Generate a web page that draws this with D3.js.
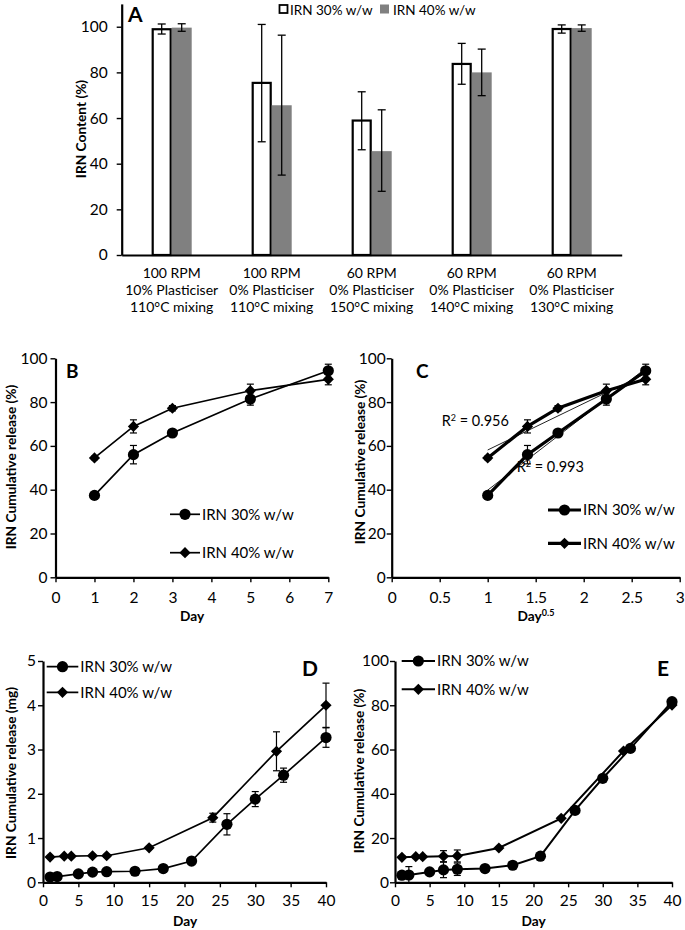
<!DOCTYPE html>
<html><head><meta charset="utf-8">
<script src="https://cdn.jsdelivr.net/npm/d3@7"></script>
<style>
body{margin:0;background:#fff}
svg{display:block}
</style></head><body>
<svg id="c" width="685" height="930"></svg>
<script>
// ---------- Panel A data ----------
const catsA = ["100 RPM\n10% Plasticiser\n110°C mixing", "100 RPM\n0% Plasticiser\n110°C mixing", "60 RPM\n0% Plasticiser\n150°C mixing", "60 RPM\n0% Plasticiser\n140°C mixing", "60 RPM\n0% Plasticiser\n130°C mixing"];
const seriesA = ["IRN 30% w/w", "IRN 40% w/w"];
const a30 = [98.9, 75.4, 58.9, 83.7, 99.0];
const a30lo = [96.8, 49.6, 46.1, 74.8, 97.2];
const a30hi = [101.2, 101.0, 71.5, 92.7, 100.8];
const a40 = [99.6, 65.6, 45.5, 80.0, 99.4];
const a40lo = [98.0, 35.0, 27.9, 69.8, 98.0];
const a40hi = [101.3, 96.3, 63.6, 90.2, 100.8];
const ticksA = [0, 20, 40, 60, 80, 100];

// ---------- Panels B / C data ----------
const daysB = [1, 2, 3, 5, 7];
const b30 = [37.4, 56.0, 65.9, 81.4, 94.3];
const b30err = [0.8, 4.2, 1.0, 2.8, 3.0];
const b40 = [54.5, 68.9, 77.2, 85.2, 90.4];
const b40err = [0.8, 3.0, 1.2, 3.0, 2.5];
const ticksBx = [0, 1, 2, 3, 4, 5, 6, 7];
const ticksCx = [0, 0.5, 1, 1.5, 2, 2.5, 3];
const ticksPct = [0, 20, 40, 60, 80, 100];
const r2Labels = ["0.956", "0.993"];

// ---------- Panels D / E data ----------
const days30 = [1, 2, 5, 7, 9, 13, 17, 21, 26, 30, 34, 40];
const days40 = [1, 3, 4, 7, 9, 15, 24, 33, 40];
const d30 = [0.12, 0.13, 0.19, 0.23, 0.24, 0.25, 0.31, 0.48, 1.31, 1.88, 2.42, 3.27];
const d30err = [0.02, 0.02, 0.02, 0.02, 0.02, 0.02, 0.03, 0.04, 0.24, 0.17, 0.16, 0.22];
const d40 = [0.57, 0.59, 0.59, 0.60, 0.60, 0.78, 1.46, 2.96, 4.0];
const d40err = [0.02, 0.02, 0.02, 0.03, 0.03, 0.03, 0.10, 0.44, 0.50];
const e30 = [3.2, 3.3, 4.7, 5.6, 5.9, 6.2, 7.7, 11.8, 32.5, 47.0, 60.5, 81.6];
const e30err = [0.5, 3.8, 0.5, 3.5, 2.8, 0.5, 0.5, 0.5, 1.0, 1.0, 1.0, 1.0];
const e40 = [11.3, 11.6, 11.6, 11.8, 11.9, 15.5, 28.9, 59.3, 80.1];
const e40err = [0.5, 0.5, 0.5, 2.5, 2.7, 0.5, 0.5, 0.5, 0.5];
const ticksDx = [0, 5, 10, 15, 20, 25, 30, 35, 40];
const ticksDy = [0, 1, 2, 3, 4, 5];

const FONT = "Lato, 'Open Sans', sans-serif";
const TICK_FS = 15.5, TITLE_FS = 13.7;
const svg = d3.select("#c");

function styleAxis(g, w, fs) {
  g.select(".domain").attr("stroke", "#000").attr("stroke-width", w);
  g.selectAll(".tick line").attr("stroke", "#000").attr("stroke-width", 1.4);
  g.selectAll(".tick text").attr("font-family", FONT).attr("font-size", fs).attr("fill", "#000");
}
function yTitle(x, y, txt, fs) {
  svg.append("text").attr("transform", `translate(${x},${y}) rotate(-90)`)
    .attr("text-anchor", "middle").attr("dy", "0.35em")
    .attr("font-family", FONT).attr("font-weight", "bold").attr("font-size", fs).text(txt);
}
function xTitle(x, y, txt) {
  return svg.append("text").attr("x", x).attr("y", y).attr("text-anchor", "middle").attr("font-family", FONT)
    .attr("font-weight", "bold").attr("font-size", TITLE_FS).text(txt);
}
function label(x, y, txt, fs) {
  svg.append("text").attr("x", x).attr("y", y).attr("font-family", FONT)
    .attr("font-weight", "bold").attr("font-size", fs).text(txt);
}
function marker(g, type, cx, cy) {
  if (type === "circle") {
    g.append("circle").attr("cx", cx).attr("cy", cy).attr("r", 5.6).attr("fill", "#000");
  } else {
    const h = 5.6;
    g.append("path").attr("d", `M${cx},${cy - h}L${cx + h},${cy}L${cx},${cy + h}L${cx - h},${cy}Z`).attr("fill", "#000");
  }
}

// ================= Panel A =================
(function () {
  const x = d3.scaleBand().domain(catsA).range([121.7, 621.7]);
  const x1 = d3.scaleBand().domain(seriesA).range([0, x.bandwidth()]).paddingOuter(1.5);
  const y = d3.scaleLinear().domain([0, 110]).range([255, 3.9]);
  const g = svg.append("g");
  const vals = [a30, a40], los = [a30lo, a40lo], his = [a30hi, a40hi];
  seriesA.forEach((s, si) => {
    catsA.forEach((c, ci) => {
      const bx = x(c) + x1(s);
      const w = x1.bandwidth();
      if (si === 0) {
        g.append("rect").attr("x", bx + 1).attr("y", y(vals[si][ci])).attr("width", w - 2)
          .attr("height", y(0) - y(vals[si][ci])).attr("fill", "#fff").attr("stroke", "#000").attr("stroke-width", 2.2);
      } else {
        g.append("rect").attr("x", bx).attr("y", y(vals[si][ci])).attr("width", w)
          .attr("height", y(0) - y(vals[si][ci])).attr("fill", "#808080");
      }
    });
  });
  seriesA.forEach((s, si) => {
    catsA.forEach((c, ci) => {
      const cx = x(c) + x1(s) + x1.bandwidth() / 2;
      const t = y(his[si][ci]), b = y(los[si][ci]);
      g.append("line").attr("x1", cx).attr("x2", cx).attr("y1", t).attr("y2", b).attr("stroke", "#000").attr("stroke-width", 1.3);
      [t, b].forEach(v => g.append("line").attr("x1", cx - 4).attr("x2", cx + 4).attr("y1", v).attr("y2", v).attr("stroke", "#000").attr("stroke-width", 1.3));
    });
  });
  const ya = g.append("g").attr("transform", "translate(121.7,0)")
    .call(d3.axisLeft(y).tickValues(ticksA).tickSize(5).tickSizeOuter(0).tickPadding(9));
  styleAxis(ya, 2.2, TICK_FS);
  const xa = g.append("g").attr("transform", "translate(0,255)")
    .call(d3.axisBottom(x).tickSize(0).tickSizeOuter(0).tickFormat(""));
  styleAxis(xa, 2.2, 13);
  catsA.forEach(c => {
    const lines = c.split("\n");
    const t = g.append("text").attr("text-anchor", "middle").attr("font-family", FONT).attr("font-size", 14);
    lines.forEach((ln, i) => t.append("tspan").attr("x", x(c) + x.bandwidth() / 2).attr("y", 278 + i * 17).text(ln));
  });
  yTitle(81, 129, "IRN Content (%)", TITLE_FS);
  label(128, 22, "A", 21);
  g.append("rect").attr("x", 279.5).attr("y", 5).attr("width", 8).attr("height", 8).attr("fill", "#fff").attr("stroke", "#000").attr("stroke-width", 1.8);
  g.append("text").attr("x", 290).attr("y", 14.5).attr("font-family", FONT).attr("font-size", 13.5).text(seriesA[0]);
  g.append("rect").attr("x", 380).attr("y", 4.5).attr("width", 9).attr("height", 9).attr("fill", "#808080");
  g.append("text").attr("x", 393).attr("y", 14.5).attr("font-family", FONT).attr("font-size", 13.5).text(seriesA[1]);
})();

// ================= generic line panel =================
function linePanel(o) {
  const x = d3.scaleLinear().domain(o.xDomain).range(o.xRange);
  const y = d3.scaleLinear().domain(o.yDomain).range(o.yRange);
  const g = svg.append("g");
  if (o.trend) {
    o.series.forEach(s => {
      const mx = d3.mean(s.xs), my = d3.mean(s.ys);
      let sxy = 0, sxx = 0;
      s.xs.forEach((v, i) => { sxy += (v - mx) * (s.ys[i] - my); sxx += (v - mx) * (v - mx); });
      const slope = sxy / sxx, icpt = my - slope * mx;
      const xa = d3.min(s.xs), xb = d3.max(s.xs);
      g.append("line").attr("x1", x(xa)).attr("y1", y(icpt + slope * xa)).attr("x2", x(xb)).attr("y2", y(icpt + slope * xb))
        .attr("stroke", "#222").attr("stroke-width", 1);
    });
  }
  o.series.forEach(s => {
    const pts = s.xs.map((v, i) => [v, s.ys[i]]);
    g.append("path").attr("d", d3.line().x(d => x(d[0])).y(d => y(d[1]))(pts))
      .attr("fill", "none").attr("stroke", "#000").attr("stroke-width", o.lw);
    pts.forEach((p, i) => {
      const e = s.errs[i];
      const cx = x(p[0]), t = y(p[1] + e), b = y(p[1] - e);
      g.append("line").attr("x1", cx).attr("x2", cx).attr("y1", t).attr("y2", b).attr("stroke", "#000").attr("stroke-width", 1.2);
      [t, b].forEach(v => g.append("line").attr("x1", cx - 3.5).attr("x2", cx + 3.5).attr("y1", v).attr("y2", v).attr("stroke", "#000").attr("stroke-width", 1.2));
    });
  });
  o.series.forEach(s => s.xs.forEach((v, i) => marker(g, s.marker, x(v), y(s.ys[i]))));
  const ya = g.append("g").attr("transform", `translate(${o.xRange[0]},0)`)
    .call(d3.axisLeft(y).tickValues(o.yTicks).tickSize(5).tickSizeOuter(0).tickPadding(o.yPad).tickFormat(d3.format("")));
  styleAxis(ya, 2.2, TICK_FS);
  const xa = g.append("g").attr("transform", `translate(0,${o.yRange[0]})`)
    .call(d3.axisBottom(x).tickValues(o.xTicks).tickSize(5).tickSizeOuter(0).tickPadding(o.xPad).tickFormat(d3.format("")));
  styleAxis(xa, 2.2, TICK_FS);
  o.series.forEach((s, i) => {
    const ly = o.legY[i];
    g.append("line").attr("x1", o.legX[0]).attr("x2", o.legX[1]).attr("y1", ly).attr("y2", ly).attr("stroke", "#000").attr("stroke-width", o.lw);
    marker(g, s.marker, (o.legX[0] + o.legX[1]) / 2, ly);
    g.append("text").attr("x", o.legX[1] + 2).attr("y", ly).attr("dy", "0.36em").attr("font-family", FONT).attr("font-size", 15).text(s.name);
  });
  return { x, y, g };
}

// ================= Panel B =================
linePanel({
  xDomain: [0, 7], xRange: [55.5, 328.3], yDomain: [0, 100], yRange: [577.3, 358.3],
  xTicks: ticksBx, yTicks: ticksPct, yPad: 3, xPad: 10, lw: 1.7,
  series: [
    { name: seriesA[0], xs: daysB, ys: b30, errs: b30err, marker: "circle" },
    { name: seriesA[1], xs: daysB, ys: b40, errs: b40err, marker: "diamond" }
  ],
  legX: [170, 200], legY: [514.3, 552.7]
});
yTitle(11, 467, "IRN Cumulative release (%)", TITLE_FS);
label(66, 377.5, "B", 19);
xTitle(192, 621, "Day");

// ================= Panel C =================
linePanel({
  xDomain: [0, 3], xRange: [391.7, 679.7], yDomain: [0, 100], yRange: [577.3, 358.3],
  xTicks: ticksCx, yTicks: ticksPct, yPad: 1, xPad: 10, lw: 3.2, trend: true,
  series: [
    { name: seriesA[0], xs: daysB.map(Math.sqrt), ys: b30, errs: b30err, marker: "circle" },
    { name: seriesA[1], xs: daysB.map(Math.sqrt), ys: b40, errs: b40err, marker: "diamond" }
  ],
  legX: [548, 581], legY: [510, 543.3]
});
yTitle(360, 462, "IRN Cumulative release (%)", TITLE_FS);
label(416, 377.5, "C", 19);
{
  const t = xTitle(536, 621, "");
  t.append("tspan").text("Day");
  t.append("tspan").attr("dy", -5).attr("font-size", 9).text("0.5");
}
[[441.7, 426, r2Labels[0]], [516.7, 472, r2Labels[1]]].forEach(([lx, ly, v]) => {
  const t = svg.append("text").attr("x", lx).attr("y", ly).attr("font-family", FONT).attr("font-size", 14.5);
  t.append("tspan").text("R");
  t.append("tspan").attr("dy", -5).attr("font-size", 9).text("2");
  t.append("tspan").attr("dy", 5).text(" = " + v);
});

// ================= Panel D =================
linePanel({
  xDomain: [0, 40], xRange: [43, 326], yDomain: [0, 5], yRange: [882.3, 661],
  xTicks: ticksDx, yTicks: ticksDy, yPad: 2, xPad: 8, lw: 1.7,
  series: [
    { name: seriesA[0], xs: days30, ys: d30, errs: d30err, marker: "circle" },
    { name: seriesA[1], xs: days40, ys: d40, errs: d40err, marker: "diamond" }
  ],
  legX: [46.7, 78.3], legY: [666.7, 692.3]
});
yTitle(11, 773, "IRN Cumulative release (mg)", TITLE_FS);
label(302, 675.5, "D", 21);
xTitle(185, 926, "Day");

// ================= Panel E =================
linePanel({
  xDomain: [0, 40], xRange: [395, 672], yDomain: [0, 100], yRange: [882.3, 661],
  xTicks: ticksDx, yTicks: ticksPct, yPad: 1, xPad: 8, lw: 2,
  series: [
    { name: seriesA[0], xs: days30, ys: e30, errs: e30err, marker: "circle" },
    { name: seriesA[1], xs: days40, ys: e40, errs: e40err, marker: "diamond" }
  ],
  legX: [401.7, 435], legY: [661, 689.3]
});
yTitle(359, 771, "IRN Cumulative release (%)", TITLE_FS);
label(657, 675.5, "E", 21);
xTitle(533.5, 926, "Day");
</script>
</body></html>
